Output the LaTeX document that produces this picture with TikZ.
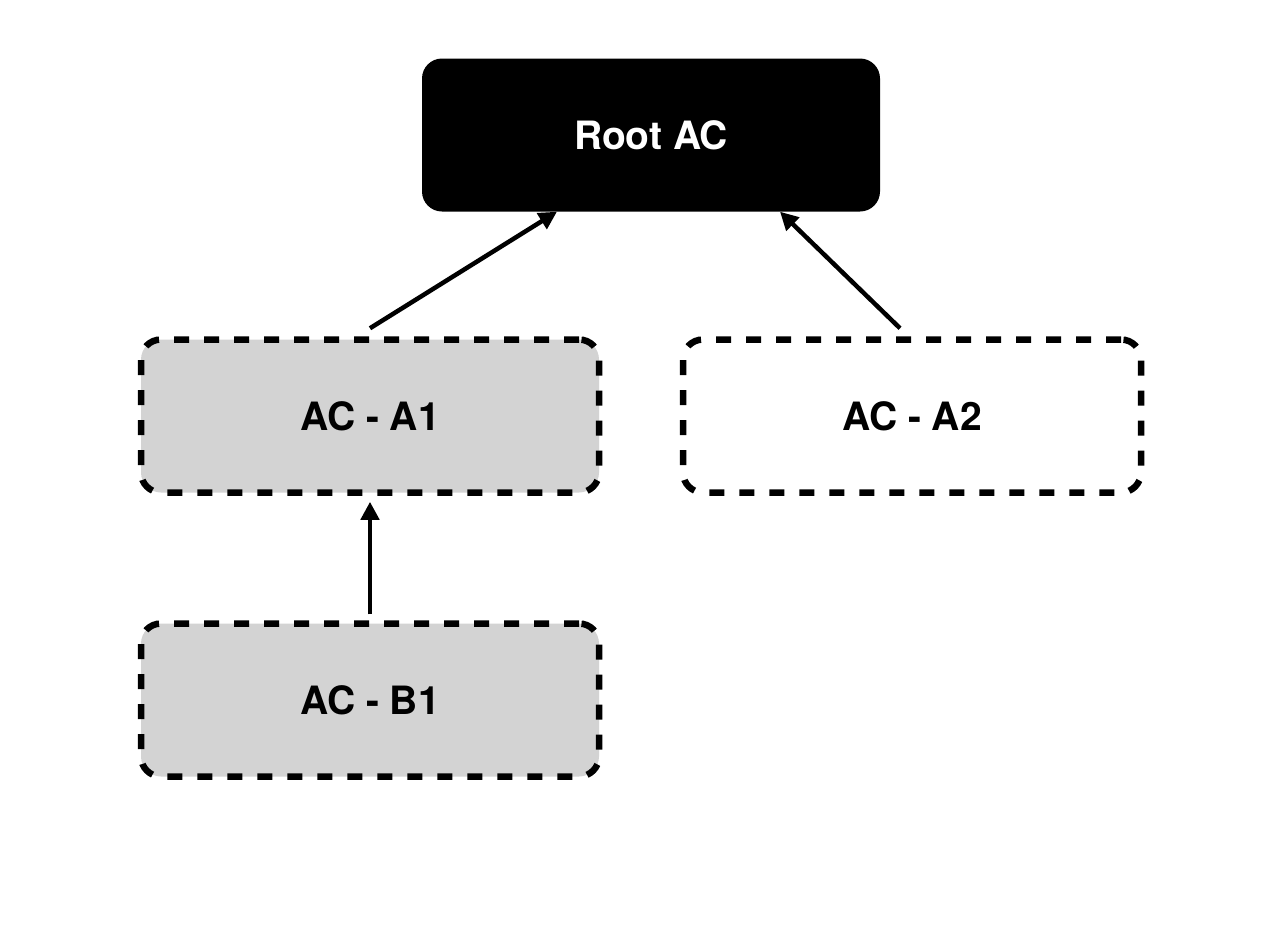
\documentclass[tikz,border=0pt]{standalone}
\usepackage{fontspec}
\setmainfont{TeX Gyre Heros}
\usetikzlibrary{arrows.meta}
\begin{document}
\begin{tikzpicture}[x=1pt,y=-1pt,
  box/.style={rectangle, rounded corners=20pt, minimum width=458pt, minimum height=153pt, inner sep=0pt, font=\fontsize{39}{42}\selectfont\bfseries},
  dbox/.style={box, draw=black, line width=6.5pt, dash pattern=on 15pt off 15pt},
  conn/.style={line width=4.5pt, -{Triangle[length=18pt,width=18pt]}}]
\useasboundingbox (0,0) rectangle (1276,926);
\node[box, fill=black, text=white] (root) at (651,135) {Root AC};
\node[dbox, fill={rgb,255:red,211;green,211;blue,211}] (a1) at (370,416) {AC - A1};
\node[dbox, fill=white] (a2) at (912,416) {AC - A2};
\node[dbox, fill={rgb,255:red,211;green,211;blue,211}] (b1) at (370,700) {AC - B1};
\draw[conn] ([yshift=8pt]a1.north) -- ([xshift=-94pt]root.south);
\draw[conn] ([xshift=-12pt,yshift=8pt]a2.north) -- ([xshift=129pt]root.south);
\draw[conn] ([yshift=6pt]b1.north) -- ([yshift=-6pt]a1.south);
\end{tikzpicture}
\end{document}
